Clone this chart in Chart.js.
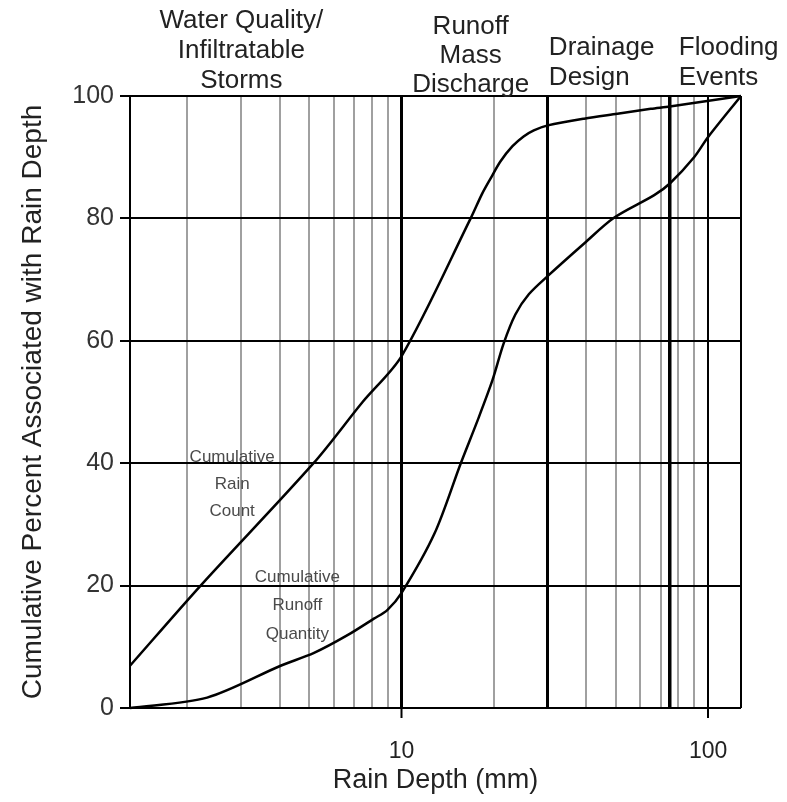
<!DOCTYPE html>
<html>
<head>
<meta charset="utf-8">
<script src="https://cdn.jsdelivr.net/npm/chart.js@4/dist/chart.umd.min.js"></script>
<style>
  html, body { margin: 0; padding: 0; background: #ffffff; }
  #wrap { width: 787px; height: 802px; }
</style>
</head>
<body>
<div id="wrap"><canvas id="c" width="787" height="802"></canvas></div>
<script>
// Cumulative share of rain events (count) by rain depth, mm -> %
const countDepth = [1.3, 2.21, 5.16, 7.46, 10, 16.8, 18.3, 19.5, 21.0, 23.0, 25.0, 27.0, 30, 39.4, 50.6, 65, 75, 128];
const countPct   = [6.9, 20, 40, 50, 57.5, 80, 84, 86.5, 89.3, 91.8, 93.4, 94.4, 95.2, 96.3, 97.1, 97.9, 98.3, 100];

// Cumulative share of runoff volume by rain depth, mm -> %
const runoffDepth = [1.3, 2.32, 4.03, 5.18, 6.66, 8.12, 8.98, 10, 12.8, 15.6, 17.7, 19.8, 21.5, 23.5, 26.0, 30, 39.4, 49.3, 66.7, 75, 90, 100, 128];
const runoffPct   = [0, 1.7, 6.9, 9.0, 11.9, 14.6, 16.0, 18.8, 28.5, 40, 47, 53.6, 59.5, 64.3, 67.6, 70.6, 75.9, 80.1, 83.8, 85.7, 90.0, 93.3, 100];

// Axis ticks
const depthRange   = [1.3, 128];
const minorDepths  = [2, 3, 4, 5, 6, 7, 8, 9, 20, 30, 40, 50, 60, 70, 80, 90];
const labelDepths  = [10, 100];
const designDepths = [10, 30, 75];          // boundaries between the rain ranges
const pctTicks     = [0, 20, 40, 60, 80, 100];

// Rain range captions along the top
const rangeCaptions = [
  ['Water Quality/', 'Infiltratable', 'Storms'],
  ['Runoff', 'Mass', 'Discharge'],
  ['Drainage', 'Design'],
  ['Flooding', 'Events']
];
// Curve captions
const curveCaptions = [
  ['Cumulative', 'Rain', 'Count'],
  ['Cumulative', 'Runoff', 'Quantity']
];

const FONT = '"Liberation Sans", Arial, Helvetica, sans-serif';
Chart.defaults.font.family = FONT;

const gridTickValues = [...minorDepths, ...labelDepths, 75, depthRange[1]].sort((a, b) => a - b);

function xGridColor(v) {
  if (designDepths.includes(v) || labelDepths.includes(v) || v === depthRange[1]) return '#000000';
  return '#a0a0a0';
}
function xGridWidth(v) {
  if (v === 75) return 3.5;
  if (designDepths.includes(v)) return 3;
  return 2;
}

const captionPlugin = {
  id: 'captions',
  afterDraw(chart) {
    const ctx = chart.ctx;
    const xs = chart.scales.x, ys = chart.scales.y;
    ctx.save();
    // range captions above the plot
    ctx.fillStyle = '#222222';
    ctx.font = '26px ' + FONT;
    ctx.textBaseline = 'alphabetic';
    const layout = [
      { x: xs.getPixelForValue(3),  align: 'center', base: [28, 58, 88] },
      { x: xs.getPixelForValue(16.8), align: 'center', base: [34, 63, 92] },
      { x: xs.getPixelForValue(30) + 1, align: 'left', base: [55, 85] },
      { x: xs.getPixelForValue(75) + 9, align: 'left', base: [55, 85] }
    ];
    rangeCaptions.forEach((lines, i) => {
      ctx.textAlign = layout[i].align;
      lines.forEach((t, j) => ctx.fillText(t, layout[i].x, layout[i].base[j]));
    });
    // curve captions inside the plot
    ctx.fillStyle = '#4a4a4a';
    ctx.font = '17px ' + FONT;
    ctx.textAlign = 'center';
    ctx.textBaseline = 'middle';
    const inner = [
      { x: 2.8,  y: [41.0, 36.6, 32.2] },
      { x: 4.57, y: [21.4, 16.7, 12.1] }
    ];
    curveCaptions.forEach((lines, i) => {
      lines.forEach((t, j) => ctx.fillText(t, xs.getPixelForValue(inner[i].x), ys.getPixelForValue(inner[i].y[j])));
    });
    ctx.restore();
  }
};

const curveStyle = {
  borderColor: '#000000',
  borderWidth: 2.5,
  pointRadius: 0,
  fill: false,
  tension: 0.3,
  clip: 4
};

new Chart(document.getElementById('c'), {
  type: 'line',
  data: {
    datasets: [
      { label: 'Cumulative Rain Count', data: countDepth.map((x, i) => ({ x, y: countPct[i] })), ...curveStyle },
      { label: 'Cumulative Runoff Quantity', data: runoffDepth.map((x, i) => ({ x, y: runoffPct[i] })), ...curveStyle }
    ]
  },
  options: {
    responsive: false,
    animation: false,
    devicePixelRatio: 1,
    layout: { padding: { top: 96, right: 46, left: 0, bottom: 0 } },
    plugins: { legend: { display: false }, tooltip: { enabled: false }, title: { display: false } },
    scales: {
      x: {
        type: 'logarithmic',
        min: depthRange[0],
        max: depthRange[1],
        afterBuildTicks: s => { s.ticks = gridTickValues.map(v => ({ value: v })); },
        afterFit: s => { s.height = 94; },
        border: { display: false },
        grid: {
          color: c => xGridColor(c.tick ? c.tick.value : 0),
          lineWidth: c => xGridWidth(c.tick ? c.tick.value : 0),
          tickColor: c => (c.tick && labelDepths.includes(c.tick.value)) ? '#000000' : 'rgba(0,0,0,0)',
          tickLength: 10,
          tickWidth: 2
        },
        ticks: {
          autoSkip: false,
          maxRotation: 0,
          padding: 20,
          color: '#222222',
          font: { size: 23 },
          callback: v => labelDepths.includes(v) ? String(v) : ''
        },
        title: {
          display: true,
          text: 'Rain Depth (mm)',
          color: '#222222',
          font: { size: 27 },
          padding: { top: 0, bottom: 5 }
        }
      },
      y: {
        min: 0,
        max: 100,
        afterBuildTicks: s => { s.ticks = pctTicks.map(v => ({ value: v })); },
        afterFit: s => { s.width = 130; },
        border: { display: true, color: '#000000', width: 2 },
        grid: { color: '#000000', lineWidth: 2, tickLength: 10, tickColor: '#000000' },
        ticks: { padding: 6, color: '#333333', font: { size: 25 } },
        title: {
          display: true,
          text: 'Cumulative Percent Associated with Rain Depth',
          color: '#222222',
          font: { size: 28 },
          padding: { top: 16, bottom: 0 }
        }
      }
    }
  },
  plugins: [captionPlugin]
});
</script>
</body>
</html>
